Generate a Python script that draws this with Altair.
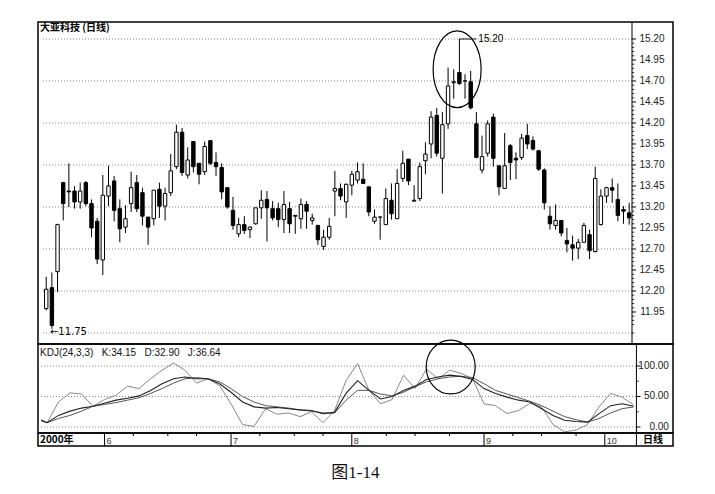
import altair as alt
import pandas as pd

# ---------------- data ----------------
opens = [11.99, 12.24, 12.43, 13.49, 13.39, 13.39, 13.26, 13.49, 13.24, 13.03,
         12.57, 13.33, 13.51, 13.18, 12.96, 13.24, 13.49, 13.37, 13.08, 13.06,
         13.41, 13.21, 13.37, 13.68, 14.09, 13.58, 13.98, 13.72, 13.62, 13.99,
         13.73, 13.67, 13.43, 13.16, 12.88, 12.99, 12.93, 13.00, 13.19, 13.29,
         13.18, 13.18, 13.05, 13.18, 13.09, 13.06, 13.23, 13.04, 12.98, 12.73,
         12.84, 13.39, 13.42, 13.26, 13.46, 13.52, 13.53, 13.44, 13.03, 13.08,
         12.99, 13.28, 13.06, 13.54, 13.77, 13.27, 13.30, 13.75, 13.95, 14.29,
         13.78, 14.19, 14.68, 14.80, 14.70, 14.69, 14.19, 13.64, 13.84, 14.27,
         13.69, 13.42, 13.93, 13.78, 13.79, 14.05, 13.99, 13.87, 13.64, 13.09,
         12.98, 13.04, 12.80, 12.75, 12.71, 12.78, 12.87, 12.67, 12.99, 13.33,
         13.43, 13.29, 13.17, 13.13]
highs = [12.37, 12.42, 13.00, 13.50, 13.72, 13.45, 13.49, 13.51, 13.29, 13.07,
         13.58, 13.69, 13.57, 13.29, 13.22, 13.62, 13.58, 13.43, 13.08, 13.40,
         13.49, 13.43, 13.83, 14.18, 14.14, 13.91, 13.98, 13.72, 13.98, 13.99,
         13.85, 13.72, 13.43, 13.32, 13.07, 13.09, 12.97, 13.19, 13.40, 13.39,
         13.27, 13.25, 13.39, 13.26, 13.10, 13.30, 13.27, 13.12, 12.99, 12.93,
         13.07, 13.63, 13.48, 13.48, 13.63, 13.73, 13.72, 13.44, 13.17, 13.08,
         13.42, 13.48, 13.65, 13.87, 13.77, 13.46, 13.73, 13.97, 14.34, 14.38,
         14.33, 14.86, 14.84, 15.20, 14.78, 14.82, 14.33, 14.05, 14.23, 14.31,
         13.69, 14.08, 13.95, 13.85, 14.07, 14.19, 14.04, 13.88, 13.66, 13.21,
         13.23, 13.04, 12.95, 12.86, 12.82, 13.01, 12.93, 13.68, 13.41, 13.44,
         13.54, 13.48, 13.21, 13.25]
lows = [11.97, 11.75, 12.19, 13.04, 13.20, 13.18, 13.18, 13.21, 12.84, 12.52,
        12.39, 13.21, 13.03, 12.78, 12.89, 13.14, 13.14, 12.98, 12.75, 12.98,
        13.07, 13.04, 13.33, 13.65, 13.57, 13.54, 13.61, 13.47, 13.58, 13.70,
        13.57, 13.29, 13.18, 12.93, 12.84, 12.88, 12.83, 12.99, 13.06, 12.79,
        13.04, 12.96, 12.89, 12.89, 12.88, 12.94, 12.94, 12.99, 12.75, 12.69,
        12.81, 13.09, 13.28, 13.07, 13.34, 13.48, 13.48, 13.09, 13.00, 12.81,
        12.99, 13.05, 13.06, 13.50, 13.46, 13.26, 13.27, 13.59, 13.78, 13.80,
        13.36, 14.13, 14.49, 14.65, 14.49, 14.36, 13.78, 13.60, 13.80, 13.68,
        13.34, 13.42, 13.52, 13.53, 13.76, 13.89, 13.87, 13.63, 13.17, 12.93,
        12.93, 12.85, 12.66, 12.56, 12.58, 12.78, 12.58, 12.66, 12.98, 13.25,
        13.25, 13.03, 13.00, 12.99]
closes = [12.22, 11.79, 12.99, 13.24, 13.38, 13.26, 13.39, 13.24, 12.95, 12.58,
          13.34, 13.45, 13.16, 12.94, 13.06, 13.43, 13.18, 13.09, 12.96, 13.40,
          13.21, 13.36, 13.63, 14.09, 13.61, 13.76, 13.68, 13.59, 13.92, 13.72,
          13.68, 13.38, 13.20, 12.98, 12.99, 12.92, 12.96, 13.19, 13.28, 13.19,
          13.07, 13.05, 13.23, 13.00, 13.10, 13.23, 13.15, 13.07, 12.81, 12.84,
          12.97, 13.42, 13.33, 13.47, 13.59, 13.62, 13.48, 13.14, 13.08, 13.08,
          13.30, 13.12, 13.48, 13.72, 13.51, 13.28, 13.68, 13.83, 14.27, 13.84,
          14.18, 14.64, 14.69, 14.67, 14.70, 14.38, 13.79, 13.80, 14.19, 13.78,
          13.44, 13.69, 13.73, 13.76, 14.02, 13.95, 13.89, 13.65, 13.25, 13.00,
          13.04, 12.89, 12.76, 12.71, 12.78, 12.98, 12.68, 13.54, 13.33, 13.43,
          13.40, 13.10, 13.15, 13.07]

price_levels = [11.95, 12.20, 12.45, 12.70, 12.95, 13.20, 13.45, 13.70,
                13.95, 14.20, 14.45, 14.70, 14.95, 15.20]
price_minor = [11.70, 11.80, 11.85, 11.90, 12.00, 12.05, 12.10, 12.15, 12.25,
               12.30, 12.35, 12.40, 12.50, 12.55, 12.60, 12.65, 12.75, 12.80,
               12.85, 12.90, 13.00, 13.05, 13.10, 13.15, 13.25, 13.30, 13.35,
               13.40, 13.50, 13.55, 13.60, 13.65, 13.75, 13.80, 13.85, 13.90,
               14.00, 14.05, 14.10, 14.15, 14.25, 14.30, 14.35, 14.40, 14.50,
               14.55, 14.60, 14.65, 14.75, 14.80, 14.85, 14.90, 15.00, 15.05,
               15.10, 15.15]
price_grid = [11.70, 12.20, 12.70, 13.20, 13.70, 14.20, 14.70, 15.20]

kdj_idx = [0, 1, 3, 5, 7, 9, 11, 13, 15, 17, 19, 21, 23, 25, 27, 29, 31, 33,
           35, 37, 39, 41, 43, 45, 47, 49, 51, 53, 55, 57, 59, 61, 63, 65, 67,
           69, 71, 73, 75, 77, 79, 81, 83, 85, 87, 89, 91, 93, 95, 97, 99, 101, 103]
k_vals = [11, 7, 19, 26, 31, 34, 39, 44, 47, 51, 60, 71, 79, 82, 79, 79, 71, 57,
          41, 33, 31, 32, 30, 28, 27, 22, 24, 55, 76, 60, 46, 50, 60, 67, 78,
          82, 85, 83, 78, 63, 55, 49, 44, 41, 30, 19, 11, 9, 8, 22, 35, 38, 34.15]
d_vals = [10, 7, 14, 19, 26, 34, 37, 40, 44, 48, 55, 63, 72, 79, 81, 79, 74, 63,
          50, 41, 35, 33, 31, 28, 26, 23, 23, 44, 60, 60, 54, 51, 57, 66, 74,
          79, 82, 83, 81, 71, 60, 54, 48, 42, 35, 26, 17, 12, 8, 14, 23, 30, 32.90]
j_vals = [12, 7, 41, 56, 54, 34, 45, 52, 67, 63, 79, 93, 105, 93, 72, 79, 68, 38,
          4, 1, 30, 21, 23, 17, 25, 7, 27, 76, 104, 60, 38, 45, 85, 63, 95,
          79, 93, 88, 79, 38, 35, 22, 27, 39, 33, 4, -8, -5, 4, 33, 55, 49, 36.64]
kdj_levels = [0, 50, 100]
kdj_minor = [25, 75]
kdj_grid = [0, 50, 100]

month_starts = [11, 33, 54, 77, 98]
month_labels = ["6", "7", "8", "9", "10"]
week_ticks = [16, 22, 27, 38, 44, 49, 60, 65, 71, 82, 87, 93]

stock_title = "大亚科技 (日线)"
NB = "\u00a0"
kdj_title = f"KDJ(24,3,3){NB*3}K:34.15{NB*3}D:32.90{NB*3}J:36.64"
year_label = "2000年"
period_label = "日线"
caption = "图1-14"

# ---------------- layout / style ----------------
W = 635
H_PRICE = 322
H_KDJ = 89
H_DATE = 13
X_DOM = [-0.57, 109.86]
AXIS_AT = 103.5          # x position (in candle units) of the right axis line
TICK_LEN = 0.7           # major tick length in candle units (~4 px)
MINOR_LEN = 0.4
LABEL_DX = 32.5          # right edge of labels from the axis line, px
PRICE_DOM = [11.569, 15.402]
KDJ_DOM = [-9.84, 136.07]
FONT = "Liberation Sans"
CJK = "Noto Sans CJK SC"

xs = alt.Scale(domain=X_DOM, nice=False, zero=False)
ps = alt.Scale(domain=PRICE_DOM, nice=False, zero=False)
ks = alt.Scale(domain=KDJ_DOM, nice=False, zero=False)


def X(field):
    return alt.X(f"{field}:Q", scale=xs, axis=None)


def PY(field):
    return alt.Y(f"{field}:Q", scale=ps, axis=None)


def KY(field):
    return alt.Y(f"{field}:Q", scale=ks, axis=None)


def axis_layers(levels, minor, yfn, height):
    lab = pd.DataFrame({"v": levels, "x0": AXIS_AT, "x1": AXIS_AT + TICK_LEN,
                        "t": [f"{v:.2f}" for v in levels]})
    mn = pd.DataFrame({"v": minor, "x0": AXIS_AT, "x1": AXIS_AT + MINOR_LEN})
    dom = alt.Chart(pd.DataFrame({"x": [AXIS_AT]})).mark_rule(
        color="black", strokeWidth=1).encode(
        x=X("x"), y=alt.value(0), y2=alt.value(height))
    ticks = alt.Chart(lab).mark_rule(color="black", strokeWidth=1).encode(
        x=X("x0"), x2="x1:Q", y=yfn("v"))
    mticks = alt.Chart(mn).mark_rule(color="black", strokeWidth=0.8).encode(
        x=X("x0"), x2="x1:Q", y=yfn("v"))
    labels = alt.Chart(lab).mark_text(
        align="right", baseline="middle", dx=LABEL_DX, font=FONT,
        fontSize=10, color="#222").encode(x=X("x0"), y=yfn("v"), text="t:N")
    return [dom, ticks, mticks, labels]


n = len(opens)
candles = pd.DataFrame({"i": list(range(n)), "open": opens, "high": highs,
                        "low": lows, "close": closes})
candles["fill"] = ["white" if c >= o else "black" for o, c in zip(opens, closes)]

# ---------------- price panel ----------------
grid_df = pd.DataFrame({"p": price_grid, "x0": X_DOM[0], "x1": AXIS_AT})
p_grid = alt.Chart(grid_df).mark_rule(color="#666", strokeWidth=0.8,
                                      strokeDash=[1, 2]).encode(
    x=X("x0"), x2="x1:Q", y=PY("p"))

wicks = alt.Chart(candles).mark_rule(color="black", strokeWidth=1).encode(
    x=X("i"), y=PY("low"), y2="high:Q")
bodies = alt.Chart(candles).mark_bar(size=3.4, stroke="black",
                                     strokeWidth=1).encode(
    x=X("i"), y=PY("open"), y2="close:Q", fill=alt.Fill("fill:N", scale=None))

title_txt = alt.Chart(pd.DataFrame({"t": [stock_title]})).mark_text(
    align="left", baseline="middle", font=CJK, fontSize=10, fontWeight="bold",
    color="black").encode(x=alt.value(2), y=alt.value(6), text="t:N")

hi_i = highs.index(max(highs))
lo_i = lows.index(min(lows))
ann_hi = pd.DataFrame({"i": [hi_i], "i2": [hi_i + 3], "p": [max(highs)],
                       "t": [f"{max(highs):.2f}"]})
hook = alt.Chart(ann_hi).mark_rule(color="black", strokeWidth=0.9).encode(
    x=X("i"), x2="i2:Q", y=PY("p"))
hi_txt = alt.Chart(ann_hi).mark_text(align="left", baseline="middle", dx=2,
                                     font=FONT, fontSize=10,
                                     color="black").encode(
    x=X("i2"), y=PY("p"), text="t:N")
ann_lo = pd.DataFrame({"i": [lo_i], "p": [min(lows)],
                       "t": [f"←{min(lows):.2f}"]})
lo_txt = alt.Chart(ann_lo).mark_text(align="left", baseline="middle", dx=-2,
                                     dy=3, font="DejaVu Sans", fontSize=10,
                                     color="black").encode(
    x=X("i"), y=PY("p"), text="t:N")

ELLIPSE_PRICE = "M0,-1.6A1,1.6,0,1,1,0,1.6A1,1.6,0,1,1,0,-1.6Z"
ELLIPSE_KDJ = "M0,-1.1A1,1.1,0,1,1,0,1.1A1,1.1,0,1,1,0,-1.1Z"
ring_price = alt.Chart(pd.DataFrame({"i": [72.6], "p": [14.84]})).mark_point(
    shape=ELLIPSE_PRICE, size=2304, filled=False, color="black",
    strokeWidth=1.2, opacity=1).encode(x=X("i"), y=PY("p"))

price = alt.layer(p_grid, wicks, bodies, title_txt, hook, hi_txt, lo_txt,
                  ring_price,
                  *axis_layers(price_levels, price_minor, PY, H_PRICE)
                  ).properties(width=W, height=H_PRICE)

# ---------------- KDJ panel ----------------
kdj_df = pd.DataFrame({"i": kdj_idx, "K": k_vals, "D": d_vals, "J": j_vals})
kgrid_df = pd.DataFrame({"v": kdj_grid, "x0": X_DOM[0], "x1": AXIS_AT})
k_grid = alt.Chart(kgrid_df).mark_rule(color="#666", strokeWidth=0.8,
                                       strokeDash=[1, 2]).encode(
    x=X("x0"), x2="x1:Q", y=KY("v"))
j_line = alt.Chart(kdj_df).mark_line(color="#888", strokeWidth=1).encode(
    x=X("i"), y=KY("J"))
d_line = alt.Chart(kdj_df).mark_line(color="#555", strokeWidth=1).encode(
    x=X("i"), y=KY("D"))
k_line = alt.Chart(kdj_df).mark_line(color="#222", strokeWidth=1.1).encode(
    x=X("i"), y=KY("K"))
kdj_txt = alt.Chart(pd.DataFrame({"t": [kdj_title]})).mark_text(
    align="left", baseline="middle", font=FONT, fontSize=10,
    color="#111").encode(x=alt.value(2), y=alt.value(9), text="t:N")
ring_kdj = alt.Chart(pd.DataFrame({"i": [71.2], "v": [98.4]})).mark_point(
    shape=ELLIPSE_KDJ, size=2401, filled=False, color="black",
    strokeWidth=1.2, opacity=1).encode(x=X("i"), y=KY("v"))

kdj = alt.layer(k_grid, j_line, d_line, k_line, kdj_txt, ring_kdj,
                *axis_layers(kdj_levels, kdj_minor, KY, H_KDJ)
                ).properties(width=W, height=H_KDJ)

# ---------------- date strip ----------------
months_df = pd.DataFrame({"i": month_starts, "t": month_labels})
m_rules = alt.Chart(months_df).mark_rule(color="black", strokeWidth=1).encode(
    x=X("i"), y=alt.value(0), y2=alt.value(H_DATE))
m_text = alt.Chart(months_df).mark_text(align="left", baseline="middle", dx=2,
                                        dy=1, font=FONT, fontSize=9,
                                        color="#333").encode(
    x=X("i"), y=alt.value(7), text="t:N")
w_rules = alt.Chart(pd.DataFrame({"i": week_ticks})).mark_rule(
    color="black", strokeWidth=1).encode(x=X("i"), y=alt.value(0),
                                         y2=alt.value(3))
sep = alt.Chart(pd.DataFrame({"i": [AXIS_AT]})).mark_rule(
    color="black", strokeWidth=1).encode(x=X("i"), y=alt.value(0),
                                         y2=alt.value(H_DATE))
year_txt = alt.Chart(pd.DataFrame({"t": [year_label]})).mark_text(
    align="left", baseline="middle", font=CJK, fontSize=10, fontWeight="bold",
    color="black").encode(x=alt.value(2), y=alt.value(7), text="t:N")
per_txt = alt.Chart(pd.DataFrame({"t": [period_label]})).mark_text(
    align="left", baseline="middle", font=CJK, fontSize=10, fontWeight="bold",
    color="black").encode(x=alt.value(605), y=alt.value(7), text="t:N")

date = alt.layer(m_rules, w_rules, sep, m_text, year_txt,
                 per_txt).properties(width=W, height=H_DATE)

chart = alt.vconcat(price, kdj, date, spacing=0, bounds="flush").properties(
    padding={"left": 28, "top": 12, "right": 5, "bottom": 5},
    title=alt.TitleParams(caption, orient="bottom", anchor="middle",
                          font="Liberation Serif, Noto Sans CJK SC",
                          fontSize=17, fontWeight="normal", offset=18,
                          color="#111"),
).configure_view(stroke="black", strokeWidth=1.5)

chart.save("out.html", embed_options={"renderer": "svg", "actions": False})
